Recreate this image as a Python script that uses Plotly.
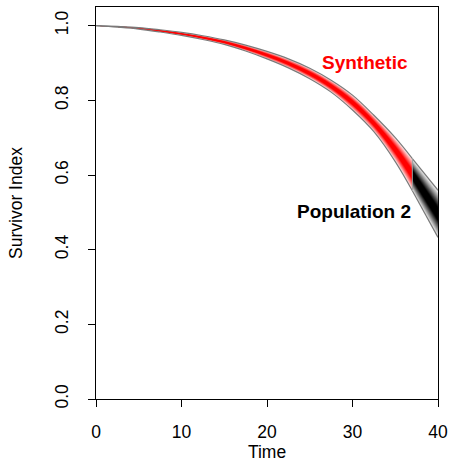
import plotly.graph_objects as go

# ---- data ----
time = [0, 2.5, 5, 7.5, 10, 12.5, 15, 17.5, 20, 22.5, 25, 27.5, 30, 32.5, 35, 37, 38, 39, 40]
centre = [1.000, 0.997, 0.993, 0.986, 0.978, 0.968, 0.956, 0.940, 0.921, 0.899,
          0.872, 0.838, 0.794, 0.738, 0.668, 0.601, 0.566, 0.531, 0.496]
halfwidth = [0.000, 0.001, 0.002, 0.003, 0.004, 0.005, 0.006, 0.008, 0.010, 0.012,
             0.014, 0.016, 0.020, 0.022, 0.032, 0.043, 0.050, 0.057, 0.063]
split_index = 15  # t = 37: Synthetic -> Population 2
labels = ["Synthetic", "Population 2"]
x_ticks = [0, 10, 20, 30, 40]
y_ticks = [0.0, 0.2, 0.4, 0.6, 0.8, 1.0]

FONT = "Liberation Sans, Arial, sans-serif"
N_LEVELS = 16

fig = go.Figure()


def band(i0, i1, rgb_core, shape):
    xs = time[i0:i1 + 1]
    cs = centre[i0:i1 + 1]
    hs = halfwidth[i0:i1 + 1]
    for k in range(N_LEVELS):
        f = 1 - k / N_LEVELS  # 1 (outer) .. small (inner)
        inten = min(1.0, (1 - f) * 1.35 + 0.05)
        col = tuple(int(round(255 + (c - 255) * inten)) for c in rgb_core)
        colstr = "rgb(%d,%d,%d)" % col
        lo = [c - h * f for c, h in zip(cs, hs)]
        up = [c + h * f for c, h in zip(cs, hs)]
        fig.add_trace(go.Scatter(x=xs, y=lo, mode="lines", line=dict(width=0, shape=shape),
                                 hoverinfo="skip", showlegend=False))
        fig.add_trace(go.Scatter(x=xs, y=up, mode="lines", line=dict(width=0, shape=shape),
                                 fill="tonexty", fillcolor=colstr,
                                 hoverinfo="skip", showlegend=False))
    # outline
    lo = [c - h for c, h in zip(cs, hs)]
    up = [c + h for c, h in zip(cs, hs)]
    for ys in (lo, up):
        fig.add_trace(go.Scatter(x=xs, y=ys, mode="lines",
                                 line=dict(color="#7a7a7a", width=1.2, shape=shape),
                                 hoverinfo="skip", showlegend=False))


band(0, split_index, (255, 0, 0), "spline")
band(split_index, len(time) - 1, (0, 0, 0), "linear")
# boundary edge at the split
fig.add_trace(go.Scatter(x=[time[split_index]] * 2,
                         y=[centre[split_index] - halfwidth[split_index],
                            centre[split_index] + halfwidth[split_index]],
                         mode="lines", line=dict(color="#a0a0a0", width=1),
                         hoverinfo="skip", showlegend=False))

fig.add_annotation(x=31.5, y=0.901, text="<b>%s</b>" % labels[0], showarrow=False,
                   font=dict(family=FONT, size=19, color="#ff0000"),
                   xanchor="center", yanchor="middle")
fig.add_annotation(x=30.2, y=0.503, text="<b>%s</b>" % labels[1], showarrow=False,
                   font=dict(family=FONT, size=19, color="#000000"),
                   xanchor="center", yanchor="middle")

axis_common = dict(showgrid=False, zeroline=False, showline=True, mirror=True,
                   linecolor="black", linewidth=1, ticks="outside", ticklen=7,
                   tickcolor="black", tickwidth=1,
                   tickfont=dict(family=FONT, size=17.5, color="black"))

fig.update_layout(
    width=454, height=465,
    margin=dict(l=96, r=12, t=6, b=66),
    paper_bgcolor="white", plot_bgcolor="white",
    xaxis=dict(range=[0, 40], tickvals=x_ticks, ticktext=[str(v) for v in x_ticks],
               ticklabelstandoff=10,
               title=dict(text="Time", standoff=2,
                          font=dict(family=FONT, size=17.5, color="black")),
               **axis_common),
    yaxis=dict(range=[0, 1.05], tickvals=y_ticks, ticktext=["%.1f" % v for v in y_ticks],
               tickangle=-90, ticklabelstandoff=13,
               title=dict(text="Survivor Index", standoff=24,
                          font=dict(family=FONT, size=17.5, color="black")),
               **axis_common),
)

fig.write_html("out.html")
